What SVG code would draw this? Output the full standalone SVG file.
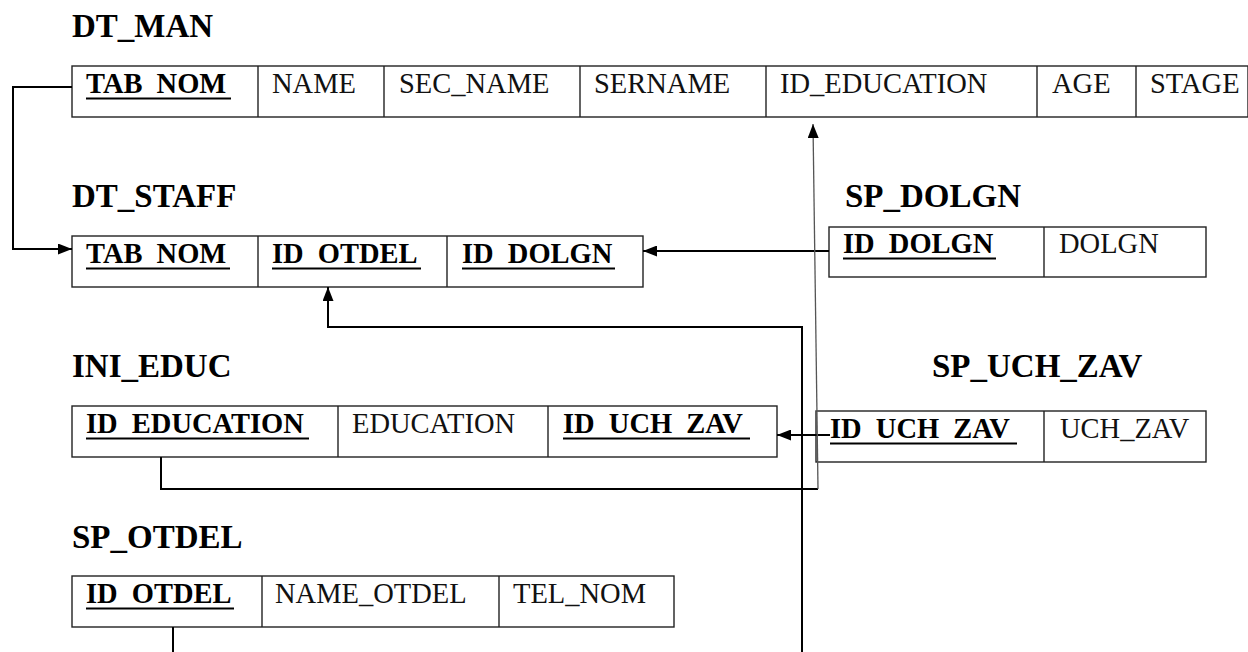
<svg xmlns="http://www.w3.org/2000/svg" width="1248" height="652" viewBox="0 0 1248 652">
<style>
  .title { font-family: "Liberation Serif", "Times New Roman", serif; font-size: 33px; font-weight: bold; fill: #000; }
  .f { font-family: "Liberation Serif", "Times New Roman", serif; font-size: 28.5px; fill: #111; }
  .k { font-family: "Liberation Serif", "Times New Roman", serif; font-size: 28.5px; font-weight: bold; fill: #000; word-spacing: 7px; }
  .box { fill: #fff; stroke: #222; stroke-width: 1.4; }
  .div { stroke: #222; stroke-width: 1.4; }
  .ul { stroke: #000; stroke-width: 2; }
  .con { fill: none; stroke: #000; stroke-width: 2; }
  .thin { fill: none; stroke: #555; stroke-width: 1.3; }
</style>
<defs>
  <marker id="arr" viewBox="0 0 14 11" refX="14" refY="5.5" markerWidth="14" markerHeight="11" markerUnits="userSpaceOnUse" orient="auto">
    <path d="M0,0 L14,5.5 L0,11 Z" fill="#000"/>
  </marker>
</defs>
<rect width="1248" height="652" fill="#fff"/>

<g id="DT_MAN">
  <text class="title" x="72" y="37">DT_MAN</text>
  <rect class="box" x="72" y="66" width="1176" height="51"/>
  <line class="div" x1="258" y1="66" x2="258" y2="117"/>
  <line class="div" x1="384" y1="66" x2="384" y2="117"/>
  <line class="div" x1="580" y1="66" x2="580" y2="117"/>
  <line class="div" x1="766" y1="66" x2="766" y2="117"/>
  <line class="div" x1="1037" y1="66" x2="1037" y2="117"/>
  <line class="div" x1="1136" y1="66" x2="1136" y2="117"/>
  <text class="k" x="86" y="93">TAB NOM</text>
  <line class="ul" x1="86" y1="98.5" x2="231" y2="98.5"/>
  <text class="f" x="272" y="93">NAME</text>
  <text class="f" x="399" y="93">SEC_NAME</text>
  <text class="f" x="594" y="93">SERNAME</text>
  <text class="f" x="780" y="93">ID_EDUCATION</text>
  <text class="f" x="1052" y="93">AGE</text>
  <text class="f" x="1150" y="93">STAGE</text>
</g>

<g id="DT_STAFF">
  <text class="title" x="72" y="207">DT_STAFF</text>
  <rect class="box" x="72" y="236" width="571" height="51"/>
  <line class="div" x1="258" y1="236" x2="258" y2="287"/>
  <line class="div" x1="447" y1="236" x2="447" y2="287"/>
  <text class="k" x="86" y="263">TAB NOM</text>
  <line class="ul" x1="86" y1="268.5" x2="230" y2="268.5"/>
  <text class="k" x="272" y="263">ID OTDEL</text>
  <line class="ul" x1="272" y1="268.5" x2="421" y2="268.5"/>
  <text class="k" x="462" y="263">ID DOLGN</text>
  <line class="ul" x1="462" y1="268.5" x2="615" y2="268.5"/>
</g>

<g id="SP_DOLGN">
  <text class="title" x="845" y="207">SP_DOLGN</text>
  <rect class="box" x="829" y="227" width="377" height="50"/>
  <line class="div" x1="1044" y1="227" x2="1044" y2="277"/>
  <text class="k" x="843" y="253">ID DOLGN</text>
  <line class="ul" x1="843" y1="258.5" x2="996" y2="258.5"/>
  <text class="f" x="1059" y="253">DOLGN</text>
</g>

<g id="INI_EDUC">
  <text class="title" x="72" y="377">INI_EDUC</text>
  <rect class="box" x="72" y="406" width="705" height="51"/>
  <line class="div" x1="338" y1="406" x2="338" y2="457"/>
  <line class="div" x1="548" y1="406" x2="548" y2="457"/>
  <text class="k" x="86" y="433">ID EDUCATION</text>
  <line class="ul" x1="86" y1="438.5" x2="309" y2="438.5"/>
  <text class="f" x="352" y="433">EDUCATION</text>
  <text class="k" x="563" y="433">ID UCH ZAV</text>
  <line class="ul" x1="563" y1="438.5" x2="750" y2="438.5"/>
</g>

<g id="SP_UCH_ZAV">
  <text class="title" x="932" y="377">SP_UCH_ZAV</text>
  <rect class="box" x="816" y="411" width="390" height="51"/>
  <line class="div" x1="1044" y1="411" x2="1044" y2="462"/>
  <text class="k" x="830" y="438">ID UCH ZAV</text>
  <line class="ul" x1="830" y1="443.5" x2="1017" y2="443.5"/>
  <text class="f" x="1060" y="438">UCH_ZAV</text>
</g>

<g id="SP_OTDEL">
  <text class="title" x="72" y="548">SP_OTDEL</text>
  <rect class="box" x="72" y="576" width="602" height="51"/>
  <line class="div" x1="262" y1="576" x2="262" y2="627"/>
  <line class="div" x1="499" y1="576" x2="499" y2="627"/>
  <text class="k" x="86" y="603">ID OTDEL</text>
  <line class="ul" x1="86" y1="608.5" x2="234" y2="608.5"/>
  <text class="f" x="275" y="603">NAME_OTDEL</text>
  <text class="f" x="513" y="603">TEL_NOM</text>
</g>

<g id="connectors">
  <path class="con" d="M72,87 H13 V249 H72" marker-end="url(#arr)"/>
  <path class="con" d="M829,251 H643" marker-end="url(#arr)"/>
  <path class="con" d="M173,627 V652"/>
  <path class="con" d="M802,652 V327 H328 V287" marker-end="url(#arr)"/>
  <path class="con" d="M830,435 H777" marker-end="url(#arr)"/>
  <path class="con" d="M161,457 V489 H818"/>
  <path class="thin" d="M818,489 L813,124" marker-end="url(#arr)"/>
</g>
</svg>
